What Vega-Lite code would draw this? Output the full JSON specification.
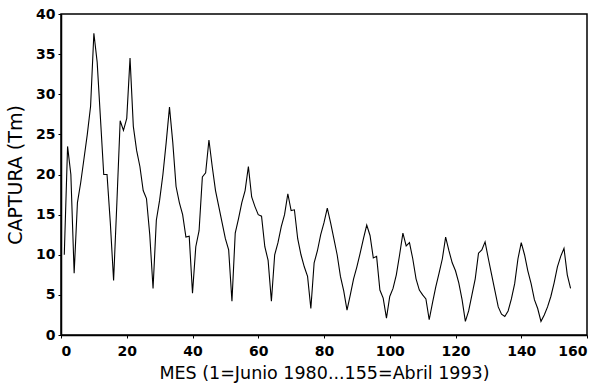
{
  "$schema": "https://vega.github.io/schema/vega-lite/v6.json",
  "autosize": {"type": "none"},
  "width": 526,
  "height": 321,
  "padding": {"left": 61, "top": 14, "right": 11, "bottom": 57},
  "background": "white",
  "config": {
    "view": {"stroke": "black", "strokeWidth": 1.5},
    "font": "DejaVu Sans",
    "axis": {
      "grid": false,
      "domainColor": "black",
      "domainWidth": 1.5,
      "tickColor": "black",
      "tickSize": 3,
      "labelColor": "black",
      "labelFont": "DejaVu Sans",
      "labelFontSize": 14,
      "labelFontWeight": "bold",
      "titleColor": "black",
      "titleFont": "DejaVu Sans",
      "titleFontWeight": "normal"
    }
  },
  "data": {
    "values": [
      {"mes": 1, "captura": 10}, {"mes": 2, "captura": 23.5}, {"mes": 3, "captura": 20}, {"mes": 4, "captura": 7.7},
      {"mes": 5, "captura": 16.5}, {"mes": 6, "captura": 19}, {"mes": 7, "captura": 22}, {"mes": 8, "captura": 25},
      {"mes": 9, "captura": 28.5}, {"mes": 10, "captura": 37.6}, {"mes": 11, "captura": 34}, {"mes": 12, "captura": 27},
      {"mes": 13, "captura": 20}, {"mes": 14, "captura": 20}, {"mes": 15, "captura": 14}, {"mes": 16, "captura": 6.8},
      {"mes": 17, "captura": 16.5}, {"mes": 18, "captura": 26.7}, {"mes": 19, "captura": 25.5}, {"mes": 20, "captura": 27},
      {"mes": 21, "captura": 34.5}, {"mes": 22, "captura": 26}, {"mes": 23, "captura": 23}, {"mes": 24, "captura": 21},
      {"mes": 25, "captura": 18}, {"mes": 26, "captura": 17}, {"mes": 27, "captura": 12.5}, {"mes": 28, "captura": 5.8},
      {"mes": 29, "captura": 14.3}, {"mes": 30, "captura": 16.8}, {"mes": 31, "captura": 20}, {"mes": 32, "captura": 24},
      {"mes": 33, "captura": 28.4}, {"mes": 34, "captura": 24}, {"mes": 35, "captura": 18.5}, {"mes": 36, "captura": 16.5},
      {"mes": 37, "captura": 15}, {"mes": 38, "captura": 12.2}, {"mes": 39, "captura": 12.3}, {"mes": 40, "captura": 5.2},
      {"mes": 41, "captura": 11}, {"mes": 42, "captura": 13}, {"mes": 43, "captura": 19.7}, {"mes": 44, "captura": 20.2},
      {"mes": 45, "captura": 24.3}, {"mes": 46, "captura": 21}, {"mes": 47, "captura": 18}, {"mes": 48, "captura": 16},
      {"mes": 49, "captura": 14}, {"mes": 50, "captura": 12}, {"mes": 51, "captura": 10.6}, {"mes": 52, "captura": 4.2},
      {"mes": 53, "captura": 12.7}, {"mes": 54, "captura": 14.5}, {"mes": 55, "captura": 16.5}, {"mes": 56, "captura": 18},
      {"mes": 57, "captura": 21}, {"mes": 58, "captura": 17.2}, {"mes": 59, "captura": 16}, {"mes": 60, "captura": 15},
      {"mes": 61, "captura": 14.8}, {"mes": 62, "captura": 11}, {"mes": 63, "captura": 9.3}, {"mes": 64, "captura": 4.2},
      {"mes": 65, "captura": 10}, {"mes": 66, "captura": 11.5}, {"mes": 67, "captura": 13.5}, {"mes": 68, "captura": 15},
      {"mes": 69, "captura": 17.6}, {"mes": 70, "captura": 15.5}, {"mes": 71, "captura": 15.6}, {"mes": 72, "captura": 12},
      {"mes": 73, "captura": 10}, {"mes": 74, "captura": 8.5}, {"mes": 75, "captura": 7.3}, {"mes": 76, "captura": 3.3},
      {"mes": 77, "captura": 9}, {"mes": 78, "captura": 10.5}, {"mes": 79, "captura": 12.5}, {"mes": 80, "captura": 14},
      {"mes": 81, "captura": 15.8}, {"mes": 82, "captura": 14}, {"mes": 83, "captura": 12}, {"mes": 84, "captura": 10},
      {"mes": 85, "captura": 7.3}, {"mes": 86, "captura": 5.5}, {"mes": 87, "captura": 3.1}, {"mes": 88, "captura": 5},
      {"mes": 89, "captura": 7}, {"mes": 90, "captura": 8.5}, {"mes": 91, "captura": 10.2}, {"mes": 92, "captura": 12},
      {"mes": 93, "captura": 13.7}, {"mes": 94, "captura": 12.4}, {"mes": 95, "captura": 9.6}, {"mes": 96, "captura": 9.8},
      {"mes": 97, "captura": 5.6}, {"mes": 98, "captura": 4.6}, {"mes": 99, "captura": 2.1}, {"mes": 100, "captura": 4.8},
      {"mes": 101, "captura": 5.8}, {"mes": 102, "captura": 7.5}, {"mes": 103, "captura": 10}, {"mes": 104, "captura": 12.7},
      {"mes": 105, "captura": 11.1}, {"mes": 106, "captura": 11.5}, {"mes": 107, "captura": 9.5}, {"mes": 108, "captura": 7},
      {"mes": 109, "captura": 5.6}, {"mes": 110, "captura": 5}, {"mes": 111, "captura": 4.5}, {"mes": 112, "captura": 1.9},
      {"mes": 113, "captura": 4}, {"mes": 114, "captura": 6}, {"mes": 115, "captura": 7.7}, {"mes": 116, "captura": 9.5},
      {"mes": 117, "captura": 12.2}, {"mes": 118, "captura": 10.5}, {"mes": 119, "captura": 9}, {"mes": 120, "captura": 8},
      {"mes": 121, "captura": 6.5}, {"mes": 122, "captura": 4.4}, {"mes": 123, "captura": 1.7}, {"mes": 124, "captura": 3},
      {"mes": 125, "captura": 5}, {"mes": 126, "captura": 7}, {"mes": 127, "captura": 10.2}, {"mes": 128, "captura": 10.6},
      {"mes": 129, "captura": 11.6}, {"mes": 130, "captura": 9.5}, {"mes": 131, "captura": 7.5}, {"mes": 132, "captura": 5.5},
      {"mes": 133, "captura": 3.5}, {"mes": 134, "captura": 2.6}, {"mes": 135, "captura": 2.3}, {"mes": 136, "captura": 3},
      {"mes": 137, "captura": 4.5}, {"mes": 138, "captura": 6.4}, {"mes": 139, "captura": 9.5}, {"mes": 140, "captura": 11.5},
      {"mes": 141, "captura": 10}, {"mes": 142, "captura": 8}, {"mes": 143, "captura": 6.4}, {"mes": 144, "captura": 4.4},
      {"mes": 145, "captura": 3.3}, {"mes": 146, "captura": 1.7}, {"mes": 147, "captura": 2.5}, {"mes": 148, "captura": 3.5},
      {"mes": 149, "captura": 4.8}, {"mes": 150, "captura": 6.5}, {"mes": 151, "captura": 8.5}, {"mes": 152, "captura": 9.8},
      {"mes": 153, "captura": 10.8}, {"mes": 154, "captura": 7.5}, {"mes": 155, "captura": 5.8}
    ]
  },
  "mark": {"type": "line", "color": "black", "strokeWidth": 1.1},
  "encoding": {
    "x": {
      "field": "mes",
      "type": "quantitative",
      "scale": {"domain": [0, 160], "nice": false},
      "axis": {"values": [0, 20, 40, 60, 80, 100, 120, 140, 160], "title": "MES (1=Junio 1980...155=Abril 1993)", "titleFontSize": 17.5, "labelPadding": 6, "titlePadding": 6}
    },
    "y": {
      "field": "captura",
      "type": "quantitative",
      "scale": {"domain": [0, 40], "nice": false},
      "axis": {"values": [0, 5, 10, 15, 20, 25, 30, 35, 40], "title": "CAPTURA (Tm)", "titleFontSize": 19, "labelPadding": 3, "titlePadding": 10}
    }
  }
}
